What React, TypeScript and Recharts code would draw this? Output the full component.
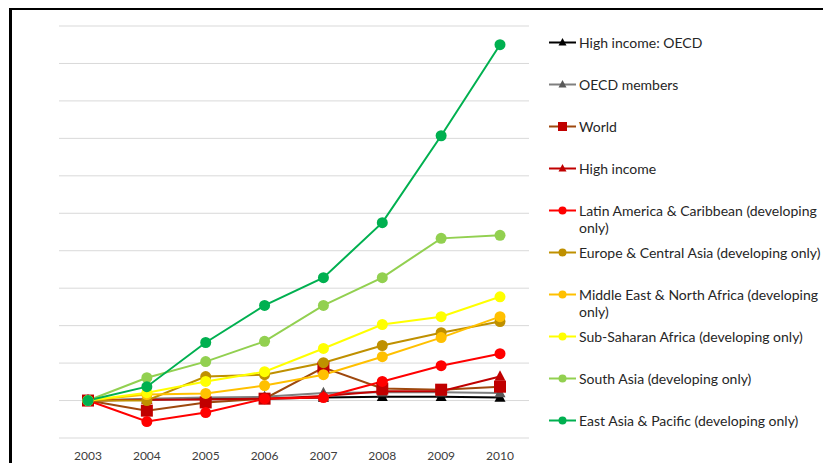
import React from "react";
import { CartesianGrid, Line, LineChart, XAxis, YAxis } from "recharts";

// Index values (2003 = 0)
const YEARS = ["2003", "2004", "2005", "2006", "2007", "2008", "2009", "2010"];
const Y_TICKS = [-1, 0, 1, 2, 3, 4, 5, 6, 7, 8, 9, 10];

const HIGH_INCOME_OECD = [0, 0.03, 0.05, 0.05, 0.08, 0.1, 0.1, 0.08];
const OECD_MEMBERS = [0, 0.05, 0.08, 0.1, 0.2, 0.22, 0.22, 0.2];
const WORLD = [0, -0.27, -0.05, 0.05, 0.88, 0.32, 0.29, 0.37];
const HIGH_INCOME = [0, 0.02, 0.03, 0.05, 0.12, 0.25, 0.25, 0.64];
const LATIN_AMERICA = [0, -0.56, -0.32, 0.05, 0.08, 0.51, 0.93, 1.25];
const EUROPE_CENTRAL_ASIA = [0, 0.0, 0.64, 0.69, 1.01, 1.47, 1.81, 2.11];
const MIDDLE_EAST = [0, 0.16, 0.19, 0.4, 0.69, 1.17, 1.68, 2.24];
const SUB_SAHARAN = [0, 0.21, 0.51, 0.77, 1.39, 2.03, 2.24, 2.77];
const SOUTH_ASIA = [0, 0.61, 1.04, 1.58, 2.54, 3.28, 4.33, 4.41];
const EAST_ASIA = [0, 0.37, 1.55, 2.54, 3.28, 4.75, 7.07, 9.5];

type Shape = "triangle" | "square" | "circle";

const SERIES: { key: string; name: string; values: number[]; line: string; marker: string; shape: Shape }[] = [
  { key: "hio", name: "High income: OECD", values: HIGH_INCOME_OECD, line: "#000000", marker: "#000000", shape: "triangle" },
  { key: "oecd", name: "OECD members", values: OECD_MEMBERS, line: "#7F7F7F", marker: "#595959", shape: "triangle" },
  { key: "world", name: "World", values: WORLD, line: "#9E480E", marker: "#C00000", shape: "square" },
  { key: "hi", name: "High income", values: HIGH_INCOME, line: "#C00000", marker: "#C00000", shape: "triangle" },
  { key: "lac", name: "Latin America & Caribbean (developing only)", values: LATIN_AMERICA, line: "#FF0000", marker: "#FF0000", shape: "circle" },
  { key: "eca", name: "Europe & Central Asia (developing only)", values: EUROPE_CENTRAL_ASIA, line: "#BF9000", marker: "#BF9000", shape: "circle" },
  { key: "mena", name: "Middle East & North Africa (developing only)", values: MIDDLE_EAST, line: "#FFC000", marker: "#FFC000", shape: "circle" },
  { key: "ssa", name: "Sub-Saharan Africa (developing only)", values: SUB_SAHARAN, line: "#FFFF00", marker: "#FFFF00", shape: "circle" },
  { key: "sa", name: "South Asia (developing only)", values: SOUTH_ASIA, line: "#92D050", marker: "#92D050", shape: "circle" },
  { key: "eap", name: "East Asia & Pacific (developing only)", values: EAST_ASIA, line: "#00B050", marker: "#00B050", shape: "circle" },
];

const data = YEARS.map((year, i) => {
  const row: Record<string, string | number> = { year };
  SERIES.forEach((s) => (row[s.key] = s.values[i]));
  return row;
});

function Marker({ cx, cy, shape, color, size }: { cx: number; cy: number; shape: Shape; color: string; size: number }) {
  if (shape === "square") {
    return <rect x={cx - size / 2} y={cy - size / 2} width={size} height={size} fill={color} />;
  }
  if (shape === "triangle") {
    const h = size * 0.95;
    return (
      <polygon
        points={`${cx},${cy - h * 0.6} ${cx - size / 2},${cy + h * 0.4} ${cx + size / 2},${cy + h * 0.4}`}
        fill={color}
      />
    );
  }
  return <circle cx={cx} cy={cy} r={size / 2} fill={color} />;
}

const SIZES: Record<Shape, number> = { square: 12, triangle: 11, circle: 11 };
const LEGEND_SIZES: Record<Shape, number> = { square: 9, triangle: 8, circle: 8 };

function LegendBox() {
  return (
    <div style={{ position: "absolute", left: 540, top: 0, width: 283, height: 463 }}>
      {SERIES.map((s, i) => (
        <div
          key={s.key}
          style={{ position: "absolute", left: 9, top: 34 + 42 * i, display: "flex", alignItems: "flex-start" }}
        >
          <svg width={30} height={17} style={{ flex: "none" }}>
            <line x1={0} y1={8.5} x2={27} y2={8.5} stroke={s.line} strokeWidth={2} />
            <Marker cx={13.5} cy={8.5} shape={s.shape} color={s.marker} size={LEGEND_SIZES[s.shape]} />
          </svg>
          <div style={{ width: 243, fontSize: 14, lineHeight: "17px", color: "#262626" }}>{s.name}</div>
        </div>
      ))}
    </div>
  );
}

export default function App() {
  return (
    <div style={{ position: "fixed", left: 0, top: 0, width: 823, height: 463, overflow: "hidden", background: "#fff", fontFamily: "Lato, 'Noto Sans', sans-serif" }}>
      <div
        style={{
          position: "absolute",
          left: 9,
          top: 8,
          width: 900,
          height: 600,
          borderTop: "2.5px solid #000",
          borderLeft: "3px solid #000",
        }}
      />
      <div style={{ position: "absolute", left: 0, top: 0 }}>
        <LineChart width={823} height={463} data={data} margin={{ top: 26, right: 294, bottom: 0, left: 59 }}>
          <CartesianGrid horizontal vertical={false} stroke="#D9D9D9" strokeWidth={1} />
          <XAxis
            dataKey="year"
            height={25}
            axisLine={false}
            tickLine={false}
            tickMargin={7}
            padding={{ left: 29, right: 29 }}
            tick={{ fontSize: 12, fill: "#404040" }}
            interval={0}
          />
          <YAxis hide domain={[-1, 10]} ticks={Y_TICKS} type="number" />
          {SERIES.map((s) => (
            <Line
              key={s.key}
              dataKey={s.key}
              name={s.name}
              stroke={s.line}
              strokeWidth={2}
              isAnimationActive={false}
              dot={(p: any) => (
                <Marker key={`${s.key}-${p.index}`} cx={p.cx} cy={p.cy} shape={s.shape} color={s.marker} size={SIZES[s.shape]} />
              )}
              activeDot={false}
            />
          ))}
        </LineChart>
      </div>
      <LegendBox />
    </div>
  );
}
